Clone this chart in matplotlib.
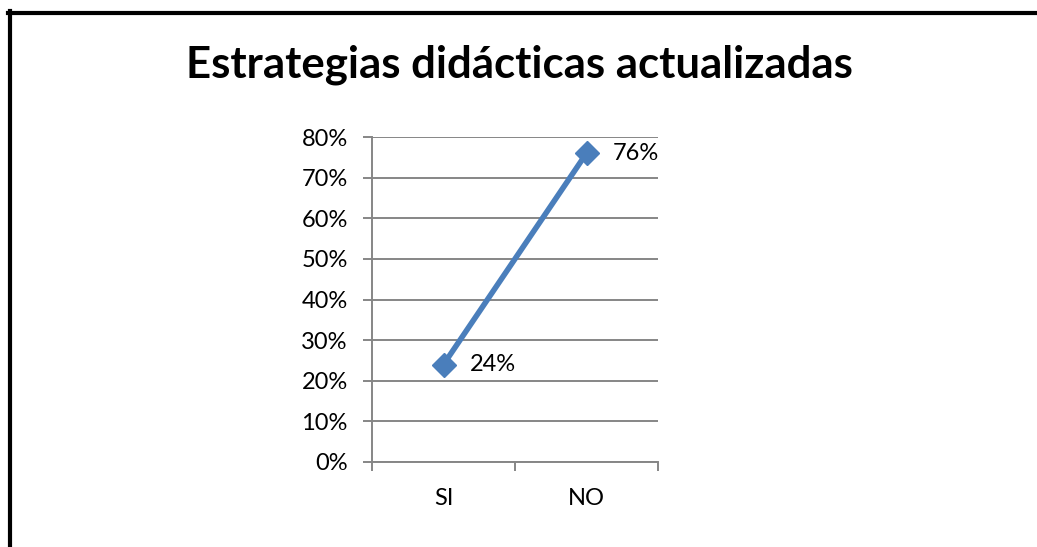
import matplotlib
matplotlib.use('Agg')
import matplotlib.pyplot as plt
from matplotlib.lines import Line2D
from matplotlib.ticker import MultipleLocator, FuncFormatter

categorias = ['SI', 'NO']
valores = [0.24, 0.76]
etiquetas = ['24%', '76%']
titulo = 'Estrategias didácticas actualizadas'

plt.rcParams['font.family'] = ['Lato', 'DejaVu Sans']

W, H = 1037, 547
fig = plt.figure(figsize=(W / 100, H / 100), dpi=100)
ax = fig.add_axes([372 / W, 1 - 462 / H, 286 / W, 325 / H])

x = list(range(len(categorias)))
ax.plot(x, valores, color='#4A7EBB', linewidth=4, marker='D',
        markersize=12, zorder=3, clip_on=False)
for xi, v, t in zip(x, valores, etiquetas):
    ax.annotate(t, (xi, v), xytext=(19, 0), textcoords='offset points',
                va='center', ha='left', fontsize=17)

ax.set_xlim(-0.5, len(categorias) - 0.5)
ax.set_ylim(0, 0.8)
ax.yaxis.set_major_locator(MultipleLocator(0.1))
ax.yaxis.set_major_formatter(FuncFormatter(lambda v, p: '%d%%' % round(v * 100)))
ax.set_xticks(x)
ax.set_xticklabels(categorias)
ax.set_xticks([-0.5, 0.5, 1.5], minor=True)

gris = '#868686'
ax.grid(axis='y', color=gris, linewidth=1.4)
ax.set_axisbelow(True)
for s in ['top', 'right']:
    ax.spines[s].set_visible(False)
for s in ['left', 'bottom']:
    ax.spines[s].set_color(gris)
    ax.spines[s].set_linewidth(1.4)

ax.tick_params(axis='y', direction='out', length=6.5, width=1.4, color=gris,
               labelsize=17, pad=11)
ax.tick_params(axis='x', which='major', length=0, labelsize=17, pad=19)
ax.tick_params(axis='x', which='minor', direction='out', length=6.5, width=1.4,
               color=gris)

fig.text(519 / W, 1 - 65 / H, titulo, ha='center', va='center',
         fontsize=31.5, fontweight='bold')

# marco del grafico
fig.add_artist(Line2D([9.5 / W, 9.5 / W], [0, 1 - 11 / H], color='black',
                      linewidth=3, transform=fig.transFigure))
fig.add_artist(Line2D([7.5 / W, 1], [1 - 13 / H, 1 - 13 / H], color='black',
                      linewidth=3, transform=fig.transFigure))

fig.savefig('out.png', dpi=100)
